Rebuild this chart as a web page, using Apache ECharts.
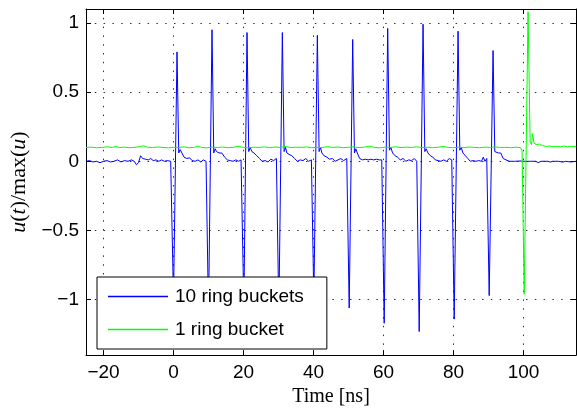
<!DOCTYPE html>
<html>
<head>
<meta charset="utf-8">
<script src="https://cdn.jsdelivr.net/npm/echarts@6/dist/echarts.min.js"></script>
<style>
  html, body { margin: 0; padding: 0; background: #fff; }
  #chart { width: 577px; height: 412px; }
</style>
</head>
<body>
<div id="chart"></div>
<script>
// axis ticks
const xTicks = [-20, 0, 20, 40, 60, 80, 100]
const yTicks = [-1, -0.5, 0, 0.5, 1]

const seriesNames = ['10 ring buckets', '1 ring bucket']

// [time ns, u(t)/max(u)]
const tenBuckets = [
  [-25, 0.0], [-24, 0.005], [-23, -0.005], [-22, 0.0], [-21, -0.01], [-20, 0.0], [-19, 0.005],
  [-18, -0.005], [-17, 0.0], [-16, 0.01], [-15, -0.005], [-14, 0.005], [-13, 0.0], [-12, 0.01],
  [-11.2, 0.0], [-10.6, -0.025], [-10.0, -0.01], [-9.4, 0.04], [-8.8, 0.02], [-8, 0.015],
  [-7.2, 0.01], [-6.5, 0.02], [-5.8, 0.005], [-5, 0.01], [-4.2, 0.0], [-3.4, 0.01], [-2.6, 0.0],
  [-1.8, 0.005], [-0.8, 0.0],
  [0.0, -1.0], [1.0, 0.79], [1.5, 0.06], [1.9, 0.085], [2.4, 0.06], [3.0, 0.03], [3.8, 0.02],
  [4.6, 0.025], [5.3, 0.005], [6.2, 0.0], [7.0, 0.01], [7.8, -0.005], [8.5, 0.01], [9.3, 0.0],
  [10.0, -1.1], [11.0, 0.95], [11.5, 0.06], [11.9, 0.09], [12.3, 0.07], [13.0, 0.06], [13.8, 0.06],
  [14.6, 0.03], [15.4, 0.01], [16.2, 0.005], [17.0, 0.0], [17.8, 0.01], [18.6, 0.0], [19.3, 0.01],
  [20.1, -1.05], [21.0, 0.93], [21.5, 0.07], [21.9, 0.1], [22.4, 0.07], [23.0, 0.06], [23.8, 0.04],
  [24.6, 0.02], [25.3, 0.0], [26.2, 0.005], [27.0, -0.005], [27.8, 0.015], [28.6, 0.005], [29.4, 0.02],
  [30.1, -1.1], [31.1, 0.93], [31.6, 0.07], [32.0, 0.1], [32.4, 0.06], [33.0, 0.05], [33.8, 0.04],
  [34.6, 0.02], [35.4, 0.0], [36.2, 0.01], [37.0, 0.005], [37.8, 0.02], [38.6, 0.0], [39.4, 0.01],
  [40.1, -1.0], [41.1, 0.91], [41.6, 0.07], [42.0, 0.1], [42.4, 0.06], [43.0, 0.04], [43.8, 0.03],
  [44.6, 0.015], [45.4, 0.02], [46.2, 0.0], [47.0, 0.01], [47.8, 0.02], [48.6, 0.005], [49.5, 0.02],
  [50.2, -1.06], [51.2, 0.88], [51.7, 0.06], [52.1, 0.09], [52.5, 0.06], [53.2, 0.02], [54.0, 0.01],
  [54.8, 0.015], [55.6, 0.01], [56.4, 0.015], [57.2, 0.01], [58.0, 0.015], [58.8, 0.01], [59.5, 0.01],
  [60.2, -1.17], [61.2, 0.96], [61.7, 0.08], [62.1, 0.1], [62.6, 0.06], [63.3, 0.04], [64.0, 0.03],
  [64.8, 0.01], [65.6, 0.02], [66.4, 0.0], [67.2, 0.01], [68.0, 0.005], [68.8, 0.02], [69.5, 0.0],
  [70.2, -1.23], [71.3, 0.99], [71.8, 0.07], [72.2, 0.09], [72.7, 0.06], [73.4, 0.04], [74.1, 0.03],
  [74.8, 0.01], [75.6, 0.005], [76.4, 0.0], [77.2, 0.01], [78.0, 0.0], [78.8, 0.02], [79.5, 0.01],
  [80.2, -1.14], [81.3, 0.94], [81.8, 0.08], [82.2, 0.1], [82.7, 0.06], [83.4, 0.04], [84.1, 0.02],
  [84.8, 0.0], [85.6, 0.005], [86.4, 0.0], [87.2, 0.005], [88.0, 0.0], [88.5, 0.03], [89.0, 0.0],
  [89.5, 0.02],
  [90.2, -0.97], [91.3, 0.80], [91.8, 0.07], [92.2, 0.08], [92.8, 0.06], [93.5, 0.06], [94.2, 0.02],
  [95.0, 0.01], [96.0, 0.0], [97.5, 0.0], [99, 0.002], [100.5, 0.0], [102, 0.0], [103.5, 0.0],
  [104.2, -0.01], [105, 0.0], [107, 0.0], [107.6, -0.006], [108.3, 0.0], [110, 0.0], [111.2, -0.006],
  [112, 0.0], [113.5, -0.005], [115, 0.0]
]

const oneBucket = [
  [-25, 0.1], [-23.5, 0.102], [-22, 0.098], [-20.5, 0.1], [-19, 0.104], [-17.5, 0.1], [-16.5, 0.108],
  [-15.5, 0.099], [-14, 0.102], [-12.5, 0.098], [-11, 0.101], [-9.5, 0.106], [-8.5, 0.112], [-7.5, 0.102],
  [-6, 0.099], [-4.5, 0.103], [-3, 0.1], [-1.5, 0.097], [0, 0.101], [1.5, 0.1], [3, 0.104], [4.5, 0.098],
  [6, 0.101], [7, 0.11], [8, 0.1], [9.5, 0.097], [11, 0.102], [12.5, 0.099], [14, 0.103], [15.5, 0.098],
  [17, 0.101], [18.5, 0.108], [20, 0.1], [21.5, 0.097], [23, 0.102], [24.5, 0.1], [26, 0.104],
  [27.5, 0.098], [29, 0.103], [30.5, 0.1], [32, 0.107], [33.5, 0.099], [35, 0.102], [36.5, 0.1],
  [38, 0.104], [39.5, 0.098], [41, 0.101], [42.5, 0.099], [44, 0.106], [45.5, 0.1], [47, 0.103],
  [48.5, 0.098], [50, 0.101], [51.5, 0.104], [53, 0.099], [54.5, 0.102], [56, 0.109], [57.5, 0.1],
  [59, 0.097], [60.5, 0.102], [62, 0.1], [63.5, 0.105], [65, 0.099], [66.5, 0.102], [68, 0.1],
  [69.5, 0.104], [71, 0.099], [72.5, 0.102], [74, 0.098], [75.5, 0.101], [77, 0.107], [78.5, 0.1],
  [80, 0.098], [81.5, 0.102], [83, 0.099], [84.5, 0.103], [86, 0.1], [87.5, 0.098], [89, 0.102],
  [90.5, 0.1], [92, 0.104], [93.5, 0.099], [95, 0.101], [96.5, 0.098], [98, 0.102], [99.2, 0.098],
  [99.6, 0.075], [100.2, -0.96], [101.3, 1.08], [101.9, 0.14], [102.3, 0.12], [102.6, 0.2],
  [103.0, 0.13], [103.8, 0.12], [104.5, 0.125], [105.5, 0.112], [106.5, 0.108], [107.5, 0.11],
  [108.5, 0.105], [109.5, 0.107], [110.5, 0.104], [111.5, 0.11], [112.5, 0.105], [113.5, 0.108],
  [115, 0.105]
]

const sans = 'Liberation Sans'
const serif = 'Liberation Serif'
const minus = (v) => String(v).replace('-', '\u2212')

const frameAxis = {
  axisLine: { show: true, onZero: false, lineStyle: { color: '#000', width: 1 } },
  axisTick: { show: true, inside: true, length: 5, lineStyle: { color: '#000' } },
}

const chart = echarts.init(document.getElementById('chart'), null, { renderer: 'canvas' })

chart.setOption({
  animation: false,
  backgroundColor: '#fff',
  grid: { left: 86, right: 1, top: 9, bottom: 54, containLabel: false },
  legend: {
    data: seriesNames,
    orient: 'vertical',
    left: 97,
    top: 277,
    icon: 'rect',
    backgroundColor: '#fff',
    borderColor: '#000',
    borderWidth: 1,
    borderRadius: 0,
    padding: [10, 23, 10, 11],
    itemWidth: 60,
    itemHeight: 1.5,
    itemGap: 14,
    textStyle: { fontFamily: sans, fontSize: 19, color: '#000', padding: [0, 0, 0, 2] },
  },
  xAxis: [
    {
      type: 'value',
      min: -25,
      max: 115,
      position: 'bottom',
      ...frameAxis,
      axisTick: { ...frameAxis.axisTick, customValues: xTicks },
      axisLabel: {
        customValues: xTicks,
        margin: 8,
        fontFamily: sans,
        fontSize: 19,
        color: '#000',
        formatter: minus,
      },
      splitLine: { show: true, lineStyle: { color: '#333', type: [1.5, 7.3], width: 1 } },
      name: 'Time [ns]',
      nameLocation: 'middle',
      nameGap: 30,
      nameTextStyle: { fontFamily: serif, fontSize: 20, color: '#000' },
    },
    {
      type: 'value',
      min: -25,
      max: 115,
      position: 'top',
      ...frameAxis,
      axisTick: { ...frameAxis.axisTick, customValues: xTicks },
      axisLabel: { show: false },
      splitLine: { show: false },
    },
  ],
  yAxis: [
    {
      type: 'value',
      min: -1.4,
      max: 1.1,
      position: 'left',
      ...frameAxis,
      axisTick: { ...frameAxis.axisTick, customValues: yTicks },
      axisLabel: {
        customValues: yTicks,
        margin: 7,
        fontFamily: sans,
        fontSize: 19,
        color: '#000',
        formatter: minus,
      },
      splitLine: { show: true, lineStyle: { color: '#333', type: [1.5, 7.3], width: 1 } },
      name: '{it|u}({it|t})/max({it|u})',
      nameLocation: 'middle',
      nameGap: 50,
      nameTextStyle: {
        fontFamily: serif,
        fontSize: 22,
        color: '#000',
        rich: { it: { fontFamily: serif, fontStyle: 'italic', fontSize: 22, color: '#000' } },
      },
    },
    {
      type: 'value',
      min: -1.4,
      max: 1.1,
      position: 'right',
      ...frameAxis,
      axisTick: { ...frameAxis.axisTick, customValues: yTicks },
      axisLabel: { show: false },
      splitLine: { show: false },
    },
  ],
  series: [
    {
      name: seriesNames[0],
      type: 'line',
      data: tenBuckets,
      symbol: 'none',
      lineStyle: { color: '#0000ff', width: 1 },
      itemStyle: { color: '#0000ff' },
    },
    {
      name: seriesNames[1],
      type: 'line',
      data: oneBucket,
      symbol: 'none',
      lineStyle: { color: '#00ff00', width: 1 },
      itemStyle: { color: '#00ff00' },
    },
  ],
})
</script>
</body>
</html>
